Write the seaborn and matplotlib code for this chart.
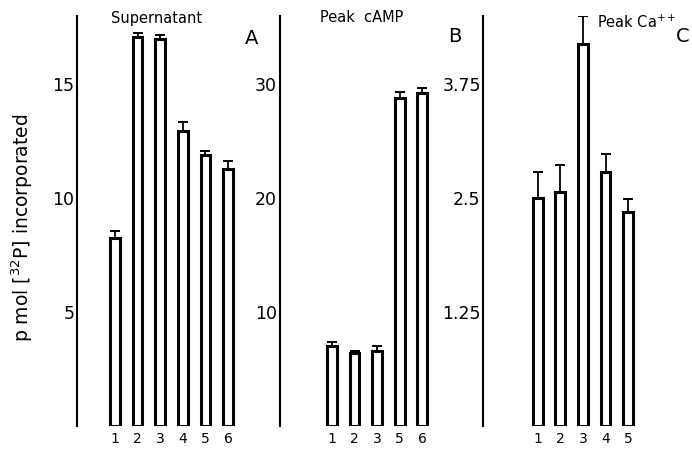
import matplotlib
matplotlib.use("Agg")
import matplotlib.pyplot as plt
import numpy as np
import pandas as pd
import seaborn as sns

# panel A: supernatant
a_labels = ["1", "2", "3", "4", "5", "6"]
a_values = [8.25, 17.07, 17.0, 12.95, 11.9, 11.3]
a_errors = [0.33, 0.2, 0.18, 0.38, 0.17, 0.34]

# panel B: peak cAMP
b_labels = ["1", "2", "3", "5", "6"]
b_values = [7.0, 6.4, 6.6, 28.8, 29.2]
b_errors = [0.38, 0.15, 0.4, 0.5, 0.45]

# panel C: peak Ca++
c_labels = ["1", "2", "3", "4", "5"]
c_values = [2.5, 2.57, 4.19, 2.79, 2.35]
c_errors = [0.29, 0.3, 0.31, 0.2, 0.14]

sns.set_style("white")
plt.rcParams["font.family"] = ["DejaVu Sans"]
plt.rcParams["text.color"] = "black"
plt.rcParams["axes.labelcolor"] = "black"

W, H = 692, 449
fig = plt.figure(figsize=(W / 100, H / 100), dpi=100)

px_per_cat = 22.6
y0_px, ytop_px = 426, 16


def make_panel(left_px, xmin, xmax, labels, values, errors, ymax, yticks, yticklabels):
    width_px = (xmax - xmin) * px_per_cat
    ax = fig.add_axes([left_px / W, (H - y0_px) / H, width_px / W, (y0_px - ytop_px) / H])
    df = pd.DataFrame({"cond": labels, "val": values})
    sns.barplot(data=df, x="cond", y="val", order=labels, color="white",
                edgecolor="black", linewidth=2.2, width=0.43, errorbar=None, ax=ax)
    ax.errorbar(np.arange(len(labels)), values, yerr=[np.zeros(len(errors)), errors],
                fmt="none", ecolor="black", elinewidth=1.3, capsize=3.5, capthick=1.4,
                zorder=5)
    ax.set_xlim(xmin, xmax)
    ax.set_ylim(0, ymax)
    ax.set_yticks(yticks)
    ax.set_yticklabels(yticklabels)
    ax.set_xlabel("")
    ax.set_ylabel("")
    for s in ["top", "right", "bottom"]:
        ax.spines[s].set_visible(False)
    ax.spines["left"].set_linewidth(1.5)
    ax.spines["left"].set_color("black")
    ax.tick_params(axis="y", direction="in", length=4, width=1.3, labelsize=12.5, pad=2,
                   colors="black")
    ax.tick_params(axis="x", length=0, labelsize=10, pad=4, colors="black")
    ax.patch.set_alpha(0)
    return ax


ax_a = make_panel(77, -1.68, 5.6, a_labels, a_values, a_errors, 18,
                  [5, 10, 15], ["5", "10", "15"])
ax_b = make_panel(279.5, -2.32, 4.6, b_labels, b_values, b_errors, 36,
                  [10, 20, 30], ["10", "20", "30"])
ax_c = make_panel(483.5, -2.4, 4.6, c_labels, c_values, c_errors, 4.5,
                  [1.25, 2.5, 3.75], ["1.25", "2.5", "3.75"])

fig.text(22 / W, 1 - 228 / H, r"p mol [$^{32}$P] incorporated", rotation=90,
         ha="center", va="center", fontsize=13.5)

fig.text(157 / W, 1 - 18 / H, "Supernatant", ha="center", va="center", fontsize=10.5)
fig.text(362 / W, 1 - 18 / H, "Peak  cAMP", ha="center", va="center", fontsize=10.5)
fig.text(597 / W, 1 - 22 / H, r"Peak Ca$^{++}$", ha="left", va="center", fontsize=10.5)

fig.text(252 / W, 1 - 38 / H, "A", ha="center", va="center", fontsize=14)
fig.text(455 / W, 1 - 36 / H, "B", ha="center", va="center", fontsize=14)
fig.text(683 / W, 1 - 37 / H, "C", ha="center", va="center", fontsize=14)

fig.savefig("out.png", dpi=100)
